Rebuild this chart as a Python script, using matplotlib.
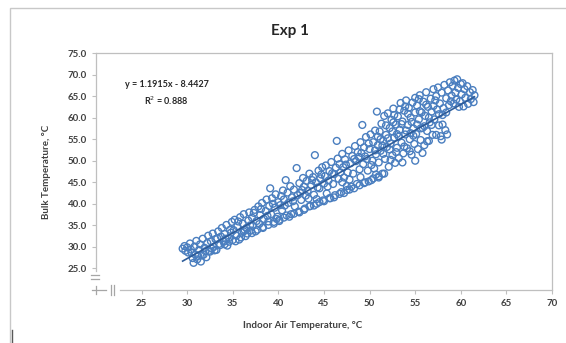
import matplotlib
matplotlib.use("Agg")
import matplotlib.pyplot as plt
from matplotlib.lines import Line2D
from matplotlib.patches import Rectangle

plt.rcParams['font.family'] = ['Lato', 'DejaVu Sans']

# (indoor air temp, bulk temp) readings
pts_30_35 = [(29.5, 29.6), (29.7, 30.2), (29.8, 29.1), (30.0, 29.9), (30.1, 28.7), (30.3, 30.8),
             (30.4, 29.4), (30.6, 27.4), (30.7, 26.3), (30.9, 28.2), (30.8, 30.1), (31.0, 31.4),
             (30.5, 28.6), (31.1, 27.1), (31.3, 29.3), (31.4, 30.6), (31.6, 28.0), (31.7, 31.9),
             (31.9, 29.8), (32.1, 27.6), (32.2, 30.9), (32.3, 32.6), (32.5, 28.9), (32.6, 31.3),
             (32.8, 33.1), (32.9, 30.0), (31.5, 26.6), (32.0, 29.0), (32.7, 29.6), (33.1, 31.8),
             (33.2, 29.3), (33.4, 33.6), (33.5, 30.7), (33.7, 32.4), (33.8, 34.4), (34.0, 31.2),
             (34.1, 33.0), (34.3, 35.1), (34.4, 30.3), (34.6, 32.1), (34.7, 34.0), (34.9, 35.8),
             (35.0, 31.6), (33.3, 32.0), (34.2, 31.9), (34.8, 33.3)]
pts_35_41 = [(35.1, 33.9), (35.2, 36.3), (35.4, 32.6), (35.5, 34.8), (35.7, 31.7), (35.8, 36.9),
             (36.0, 33.3), (36.1, 35.4), (36.2, 37.6), (36.4, 32.5), (36.5, 34.4), (36.7, 36.1),
             (36.8, 38.0), (37.0, 33.8), (35.6, 35.9), (36.3, 33.9), (36.9, 35.0), (37.1, 36.8),
             (37.2, 34.9), (37.4, 38.6), (37.5, 33.6), (37.6, 36.0), (37.8, 39.4), (37.9, 35.3),
             (38.0, 37.4), (38.2, 40.2), (38.3, 34.6), (38.4, 36.5), (38.6, 38.3), (38.7, 41.0),
             (38.9, 35.9), (39.0, 39.5), (37.3, 37.9), (38.1, 38.8), (38.8, 37.2), (39.1, 43.6),
             (39.2, 37.6), (39.3, 41.3), (39.5, 35.4), (39.6, 39.1), (39.7, 42.2), (39.9, 37.0),
             (40.0, 40.4), (40.1, 36.3), (40.3, 41.8), (40.4, 38.5), (40.5, 43.1), (40.7, 39.6),
             (40.8, 45.5), (40.9, 37.3), (39.4, 40.0), (40.2, 39.7), (40.6, 41.0)]
pts_41_47 = [(41.0, 42.6), (41.1, 40.2), (41.3, 44.1), (41.4, 37.6), (41.5, 41.5), (41.7, 43.3),
             (41.8, 39.4), (42.0, 48.3), (42.1, 42.0), (42.2, 38.2), (42.3, 44.8), (42.5, 40.9),
             (42.6, 43.2), (42.7, 46.0), (42.9, 38.9), (43.0, 41.9), (41.6, 40.6), (42.4, 42.5),
             (42.8, 44.0), (43.1, 45.3), (43.2, 43.0), (43.4, 47.0), (43.5, 39.5), (43.6, 44.4),
             (43.8, 46.2), (43.9, 42.1), (44.0, 51.3), (44.1, 45.0), (44.2, 40.0), (44.4, 47.7),
             (44.5, 43.6), (44.6, 45.9), (44.8, 48.5), (44.9, 40.8), (45.0, 44.7), (43.3, 41.2),
             (44.3, 43.8), (44.7, 46.8), (43.7, 45.5), (45.1, 46.4), (45.2, 48.9), (45.3, 42.4),
             (45.5, 45.4), (45.6, 47.6), (45.7, 41.3), (45.8, 49.7), (46.0, 44.6), (46.1, 46.9),
             (46.2, 42.0), (46.3, 48.4), (46.4, 54.6), (46.5, 50.5), (46.6, 45.8), (46.8, 47.3),
             (46.9, 42.7), (47.0, 51.6), (45.4, 44.0), (45.9, 47.1), (46.7, 49.2), (47.0, 45.0)]
pts_47_53 = [(47.1, 48.5), (47.2, 46.1), (47.3, 50.3), (47.5, 43.2), (47.6, 47.3), (47.7, 52.4),
             (47.9, 49.4), (48.0, 44.0), (48.1, 51.1), (48.2, 47.0), (48.4, 53.4), (48.5, 49.9),
             (48.6, 44.6), (48.7, 52.0), (48.9, 48.0), (49.0, 54.3), (47.4, 49.1), (47.8, 45.6),
             (48.3, 50.4), (48.8, 50.9), (49.0, 46.2), (49.1, 51.8), (49.2, 58.3), (49.3, 49.2),
             (49.4, 53.1), (49.5, 45.0), (49.6, 55.5), (49.7, 50.4), (49.8, 47.7), (50.0, 52.7),
             (50.1, 56.1), (50.2, 45.5), (50.3, 50.0), (50.4, 54.3), (50.5, 48.2), (50.6, 57.0),
             (50.7, 51.5), (50.8, 61.4), (50.9, 53.6), (51.0, 46.4), (49.5, 51.0), (49.9, 54.0),
             (50.2, 49.0), (50.6, 52.4), (50.9, 55.6), (51.0, 49.6), (51.1, 56.8), (51.2, 52.3),
             (51.3, 58.6), (51.4, 47.0), (51.5, 54.6), (51.6, 60.4), (51.7, 50.4), (51.8, 56.0),
             (51.9, 53.2), (52.0, 61.0), (52.1, 48.6), (52.2, 57.6), (52.3, 54.0), (52.4, 59.5),
             (52.5, 51.3), (52.6, 62.1), (52.7, 55.4), (52.8, 49.5), (52.9, 58.4), (53.0, 53.0),
             (51.2, 55.0), (51.5, 51.6), (51.8, 58.2), (52.0, 55.2), (52.3, 50.2), (52.5, 56.8),
             (52.7, 60.6), (52.9, 52.0), (53.0, 56.2), (51.4, 53.5), (52.2, 52.6), (52.6, 58.9)]
pts_53_57 = [(53.1, 60.3), (53.2, 50.6), (53.3, 57.2), (53.4, 63.4), (53.5, 54.2), (53.6, 59.1),
             (53.7, 51.7), (53.8, 61.6), (53.9, 56.1), (54.0, 64.0), (54.1, 52.9), (54.2, 58.3),
             (54.3, 62.3), (54.4, 55.0), (54.5, 60.0), (54.6, 51.4), (54.7, 63.5), (54.8, 57.5),
             (54.9, 53.9), (55.0, 61.2), (53.2, 55.6), (53.5, 58.5), (53.8, 53.3), (54.0, 57.0),
             (54.2, 60.9), (54.4, 52.2), (54.6, 59.0), (54.8, 55.8), (55.0, 64.6), (53.3, 61.9),
             (53.9, 62.6), (54.5, 56.4), (55.0, 50.0), (53.6, 49.6), (55.1, 56.2), (55.2, 62.8),
             (55.3, 52.7), (55.4, 59.6), (55.5, 65.2), (55.6, 54.8), (55.7, 61.2), (55.8, 57.6),
             (55.9, 63.7), (56.0, 53.6), (56.1, 60.4), (56.2, 65.9), (56.3, 56.9), (56.4, 62.5),
             (56.5, 54.6), (56.6, 58.9), (56.7, 64.4), (56.8, 61.4), (56.9, 56.0), (57.0, 66.6),
             (55.2, 58.4), (55.5, 61.5), (55.8, 51.8), (56.0, 58.0), (56.2, 63.0), (56.5, 60.0),
             (56.8, 58.3), (57.0, 62.7), (55.4, 64.3), (56.3, 54.5), (55.6, 57.5)]
pts_57_62 = [(57.1, 59.6), (57.2, 64.0), (57.3, 56.0), (57.4, 61.9), (57.5, 67.0), (57.6, 58.2),
             (57.7, 63.3), (57.8, 55.7), (57.9, 65.8), (58.0, 60.6), (58.1, 62.2), (58.2, 67.6),
             (58.3, 57.1), (58.4, 64.5), (58.5, 56.1), (58.6, 66.3), (58.7, 62.9), (58.8, 68.2),
             (58.9, 63.8), (59.0, 65.1), (57.3, 65.0), (57.6, 60.8), (58.0, 58.4), (58.4, 61.2),
             (57.9, 54.9), (59.1, 67.4), (59.2, 63.3), (59.3, 68.6), (59.4, 65.8), (59.5, 64.2),
             (59.6, 68.9), (59.7, 66.9), (59.9, 63.8), (60.0, 67.8), (60.1, 65.4), (60.3, 62.6),
             (60.4, 66.6), (60.5, 64.6), (60.7, 67.3), (60.8, 63.2), (61.0, 65.9), (61.1, 64.3),
             (61.3, 66.4), (61.4, 63.6), (61.5, 65.2), (60.2, 68.0), (59.8, 62.5)]
# lower trailing band
pts_lower = [(31.2, 27.9), (31.8, 28.2), (32.4, 29.1), (33.0, 29.2), (33.6, 30.4), (34.1, 30.6),
             (34.6, 31.2), (35.3, 31.3), (35.9, 32.2), (36.6, 33.1), (37.1, 33.2), (37.7, 34.0),
             (38.3, 34.4), (38.9, 35.1), (39.5, 35.8), (40.1, 36.0), (40.6, 36.8), (41.2, 37.0),
             (41.7, 37.7), (42.3, 38.0), (42.8, 38.6), (43.4, 39.4), (43.9, 39.6), (44.5, 40.4),
             (45.0, 40.6), (45.6, 41.3), (46.1, 41.5), (46.7, 42.3), (47.2, 42.5), (47.8, 43.3),
             (48.3, 43.6), (48.9, 44.3), (49.4, 44.8), (49.9, 45.2), (50.4, 45.9), (51.0, 46.1),
             (51.6, 47.0), (36.2, 33.6), (39.8, 36.5), (44.2, 41.1), (47.5, 44.1), (50.7, 46.8)]

fit_slope = 1.1915
fit_icept = -8.4427
fit_range = [29.5, 61.5]

x_ticks = [25, 30, 35, 40, 45, 50, 55, 60, 65, 70]
y_ticks = [25, 30, 35, 40, 45, 50, 55, 60, 65, 70, 75]

W, H = 566, 343
fig = plt.figure(figsize=(W / 100, H / 100), dpi=100)
ax = fig.add_axes([96 / W, 1 - 290 / H, (552 - 96) / W, (290 - 53) / H])

allpts = pts_30_35 + pts_35_41 + pts_41_47 + pts_47_53 + pts_53_57 + pts_57_62 + pts_lower
xs = [p[0] for p in allpts]
ys = [p[1] for p in allpts]
ax.scatter(xs, ys, s=24, facecolors='none', edgecolors='#4A7EBF', linewidths=1.0,
           zorder=2)
fy = [fit_slope * v + fit_icept for v in fit_range]
ax.plot(fit_range, fy, color='#2E5C99', lw=1.2, zorder=3)

ax.set_xlim(20, 70)
ax.set_ylim(20, 75)
ax.set_xticks(x_ticks)
ax.set_yticks(y_ticks)
ax.set_yticklabels(['%.1f' % v for v in y_ticks])
ax.tick_params(labelsize=7, colors='#BFBFBF', labelcolor='#404040', length=3, width=0.8)
for lab in ax.get_xticklabels() + ax.get_yticklabels():
    lab.set_fontweight('bold')

for sp in ax.spines.values():
    sp.set_color('#BFBFBF')
    sp.set_linewidth(0.9)
ax.spines['left'].set_bounds(24.5, 75)
ax.spines['bottom'].set_bounds(22.6, 70)

ax.text(0.155, 0.868, 'y = 1.1915x - 8.4427', transform=ax.transAxes, ha='center',
        va='center', fontsize=6.5, fontweight='bold', color='#262626')
ax.text(0.155, 0.8, 'R$^2$ = 0.888', transform=ax.transAxes, ha='center',
        va='center', fontsize=6.5, fontweight='bold', color='#262626')

fig.text(290 / W, 1 - 31 / H, 'Exp 1', ha='center', va='center', fontsize=11,
         fontweight='bold', color='#262626')
fig.text(303 / W, 1 - 326 / H, 'Indoor Air Temperature, °C', ha='center', va='center',
         fontsize=7, fontweight='bold', color='#404040')
fig.text(47 / W, 1 - 172 / H, 'Bulk Temperature, °C', ha='center', va='center',
         rotation=90, fontsize=7, fontweight='bold', color='#404040')

# axis break marks, placed in pixel coordinates
def px_line(x0, y0, x1, y1, **kw):
    fig.add_artist(Line2D([x0 / W, x1 / W], [1 - y0 / H, 1 - y1 / H], **kw))

brk = dict(color='#A6A6A6', lw=0.9)
px_line(91, 275, 99, 275, **brk)
px_line(91, 279, 99, 279, **brk)
px_line(92, 290, 106, 290, **brk)
px_line(96, 286, 96, 294, **brk)
px_line(111, 285, 111, 295, **brk)
px_line(114, 285, 114, 295, **brk)

# chart area border
fig.add_artist(Rectangle((10 / W, -0.01), 1.0, 1 - 8 / H + 0.01, fill=False,
                         edgecolor='#C8C8C8', lw=1.0, transform=fig.transFigure))
px_line(12, 330, 12, 343, color='#595959', lw=1.0)

fig.savefig('out.png', dpi=100)
